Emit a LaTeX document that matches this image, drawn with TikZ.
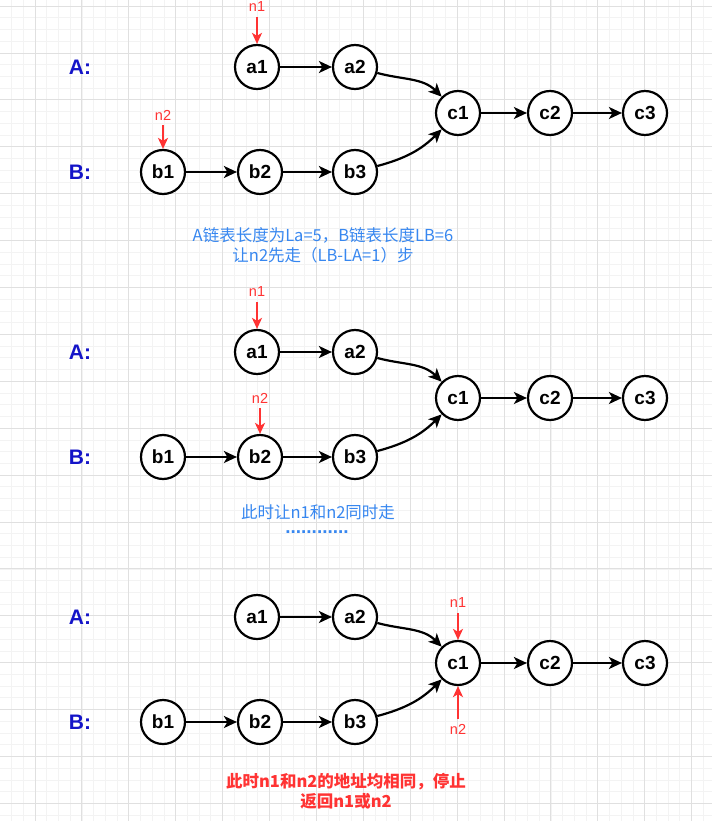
\documentclass[tikz,border=0pt]{standalone}
\usepackage{fontspec}
\setmainfont{Liberation Sans}
\newfontfamily\cjk{Noto Sans CJK SC}
\usetikzlibrary{arrows.meta}
\definecolor{gridminor}{RGB}{243,243,243}
\definecolor{gridmajor}{RGB}{224,224,224}
\definecolor{lblblue}{RGB}{20,20,200}
\definecolor{txtblue}{RGB}{55,135,240}
\definecolor{ptrred}{RGB}{255,51,51}
\tikzset{
  lnode/.style={circle, draw=black, line width=2.2pt, fill=white, minimum size=44pt, inner sep=0pt,
    font=\fontsize{19}{19}\selectfont\bfseries},
  rowlbl/.style={font=\fontsize{21}{21}\selectfont\bfseries, text=lblblue},
  link/.style={line width=2.2pt, -{Stealth[length=13pt,width=12pt,inset=3.5pt]}},
  ptr/.style={line width=2pt, draw=ptrred, -{Stealth[length=11pt,width=10pt,inset=3pt]}, shorten <=5pt},
  ptrlbl/.style={font=\fontsize{14.5}{14.5}\selectfont, text=ptrred, inner sep=0pt},
}
\begin{document}
\begin{tikzpicture}[x=1pt,y=-1pt]
\useasboundingbox (0,0) rectangle (712,821);
\fill[white] (0,0) rectangle (712,821);
% grid
\foreach \k in {0,...,59} {
  \pgfmathsetmacro\xx{11.55+11.725*\k}
  \draw[gridminor, line width=0.8pt] (\xx,0) -- (\xx,821);
}
\foreach \k in {0,...,69} {
  \pgfmathsetmacro\yy{6.1+11.725*\k}
  \draw[gridminor, line width=0.8pt] (0,\yy) -- (712,\yy);
}
\foreach \k in {0,...,14} {
  \pgfmathsetmacro\xx{35+46.9*\k}
  \draw[gridmajor, line width=0.9pt] (\xx,0) -- (\xx,821);
}
\foreach \k in {0,...,17} {
  \pgfmathsetmacro\yy{6.1+46.9*\k}
  \draw[gridmajor, line width=0.9pt] (0,\yy) -- (712,\yy);
}
% three diagrams
\foreach \d/\o in {1/0,2/285,3/550} {
  \node[rowlbl] (A\d) at (80,67+\o) {A:};
  \node[rowlbl] (B\d) at (80,172+\o) {B:};
  \node[lnode] (a1\d) at (257,67+\o) {a1};
  \node[lnode] (a2\d) at (355,67+\o) {a2};
  \node[lnode] (c1\d) at (458,113+\o) {c1};
  \node[lnode] (c2\d) at (550,113+\o) {c2};
  \node[lnode] (c3\d) at (645,113+\o) {c3};
  \node[lnode] (b1\d) at (163,172+\o) {b1};
  \node[lnode] (b2\d) at (260,172+\o) {b2};
  \node[lnode] (b3\d) at (355,172+\o) {b3};
  \draw[link] (a1\d) -- (a2\d);
  \draw[link] (b1\d) -- (b2\d);
  \draw[link] (b2\d) -- (b3\d);
  \draw[link] (c1\d) -- (c2\d);
  \draw[link] (c2\d) -- (c3\d);
  \draw[link] (a2\d) to[out=-15,in=135] (c1\d);
  \draw[link] (b3\d) to[out=15,in=-135] (c1\d);
}
% pointers diagram 1
\node[ptrlbl] (p11) at (257,7) {n1};
\draw[ptr] (p11.south) -- (a11);
\node[ptrlbl] (p21) at (163,115) {n2};
\draw[ptr] (p21.south) -- (b11);
% pointers diagram 2
\node[ptrlbl] (p12) at (257,292) {n1};
\draw[ptr] (p12.south) -- (a12);
\node[ptrlbl] (p22) at (260,398) {n2};
\draw[ptr] (p22.south) -- (b22);
% pointers diagram 3
\node[ptrlbl] (p13) at (458,603) {n1};
\draw[ptr] (p13.south) -- (c13);
\node[ptrlbl] (p23) at (458,729) {n2};
\draw[ptr] (p23.north) -- (c13);
% texts
\node[align=center, text=txtblue, font=\cjk\fontsize{16.5}{20}\selectfont] (t1) at (323,245)
  {A链表长度为La=5，B链表长度LB=6\\让n2先走（LB-LA=1）步};
\node[text=txtblue, font=\cjk\fontsize{16.5}{20}\selectfont] (t2) at (318,512) {此时让n1和n2同时走};
\node[text=txtblue, font=\fontsize{19}{19}\selectfont\bfseries] (t3) at (317,532) {............};
\node[align=center, text=ptrred, font=\cjk\fontsize{16.5}{20}\selectfont\bfseries] (t4) at (346,791)
  {此时n1和n2的地址均相同，停止\\返回n1或n2};
\end{tikzpicture}
\end{document}
